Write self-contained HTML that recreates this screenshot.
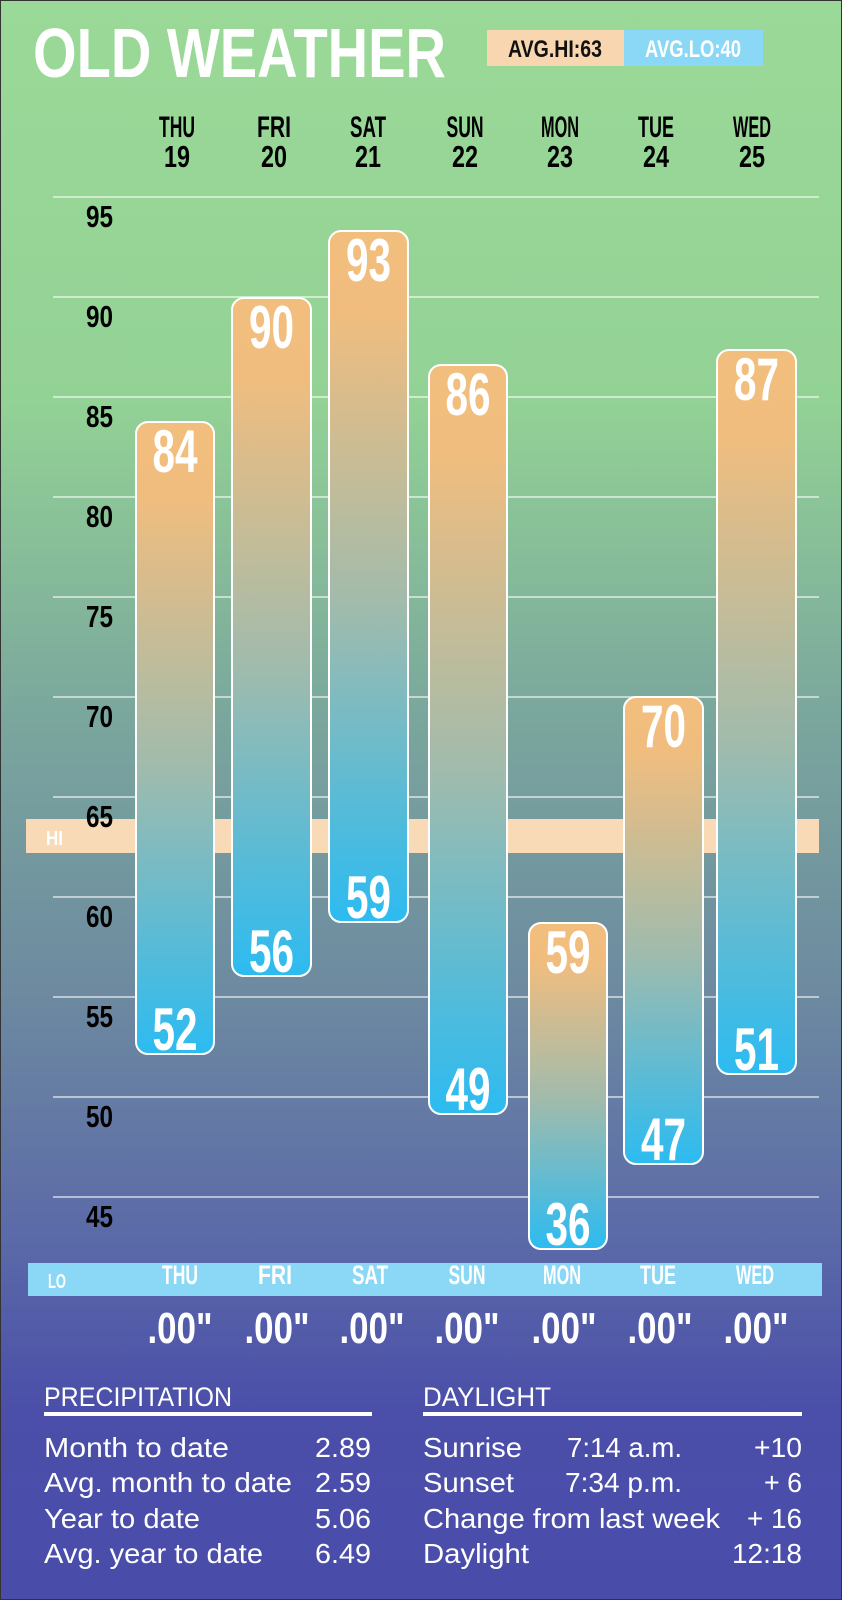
<!DOCTYPE html>
<html><head><meta charset="utf-8"><style>
html,body{margin:0;padding:0;background:#fff}
svg{display:block}
text{font-family:"Liberation Sans",sans-serif}
</style></head><body>
<svg width="842" height="1600" viewBox="0 0 842 1600" xmlns="http://www.w3.org/2000/svg">
<defs>
<linearGradient id="bg" x1="0" y1="0" x2="0" y2="1">
<stop offset="0" stop-color="#9bd998"/>
<stop offset="0.25" stop-color="#93d295"/>
<stop offset="0.45" stop-color="#7aa69d"/>
<stop offset="0.62" stop-color="#6d8aa0"/>
<stop offset="0.78" stop-color="#5a68a8"/>
<stop offset="0.88" stop-color="#4b4fa9"/>
<stop offset="1" stop-color="#4a4caa"/>
</linearGradient>
<linearGradient id="bar" x1="0" y1="0" x2="0" y2="1">
<stop offset="0" stop-color="#f2be7e"/>
<stop offset="0.12" stop-color="#f0bd7f"/>
<stop offset="0.55" stop-color="#9fbbad"/>
<stop offset="1" stop-color="#2cbbf1"/>
</linearGradient>
</defs>
<rect x="0" y="0" width="842" height="1600" fill="url(#bg)"/>
<rect x="0.5" y="0.5" width="841" height="1599" fill="none" stroke="#333" stroke-width="1"/>

<text x="33" y="77" font-size="70" font-weight="bold" fill="#fff" textLength="413" lengthAdjust="spacingAndGlyphs">OLD WEATHER</text>
<rect x="487" y="30" width="137" height="36" fill="#f8d6b0"/>
<rect x="624" y="30" width="139" height="36" fill="#8ad8f6"/>
<text x="555" y="57" font-size="24" font-weight="bold" fill="#111" text-anchor="middle" textLength="94" lengthAdjust="spacingAndGlyphs">AVG.HI:63</text>
<text x="693" y="57" font-size="24" font-weight="bold" fill="#fff" text-anchor="middle" textLength="96" lengthAdjust="spacingAndGlyphs">AVG.LO:40</text>

<g font-size="30" font-weight="bold" fill="#000" text-anchor="middle">
<text x="177" y="137" textLength="36" lengthAdjust="spacingAndGlyphs">THU</text>
<text x="274" y="137" textLength="34" lengthAdjust="spacingAndGlyphs">FRI</text>
<text x="368" y="137" textLength="36" lengthAdjust="spacingAndGlyphs">SAT</text>
<text x="465" y="137" textLength="37" lengthAdjust="spacingAndGlyphs">SUN</text>
<text x="560" y="137" textLength="38" lengthAdjust="spacingAndGlyphs">MON</text>
<text x="656" y="137" textLength="36" lengthAdjust="spacingAndGlyphs">TUE</text>
<text x="752" y="137" textLength="38" lengthAdjust="spacingAndGlyphs">WED</text>
</g>
<g font-size="31" font-weight="bold" fill="#000" text-anchor="middle">
<text x="177" y="167" textLength="26" lengthAdjust="spacingAndGlyphs">19</text>
<text x="274" y="167" textLength="26" lengthAdjust="spacingAndGlyphs">20</text>
<text x="368" y="167" textLength="26" lengthAdjust="spacingAndGlyphs">21</text>
<text x="465" y="167" textLength="26" lengthAdjust="spacingAndGlyphs">22</text>
<text x="560" y="167" textLength="26" lengthAdjust="spacingAndGlyphs">23</text>
<text x="656" y="167" textLength="26" lengthAdjust="spacingAndGlyphs">24</text>
<text x="752" y="167" textLength="26" lengthAdjust="spacingAndGlyphs">25</text>
</g>

<g stroke="#ffffff" stroke-opacity="0.55" stroke-width="2">
<line x1="53" y1="197" x2="819" y2="197"/>
<line x1="53" y1="297" x2="819" y2="297"/>
<line x1="53" y1="397" x2="819" y2="397"/>
<line x1="53" y1="497" x2="819" y2="497"/>
<line x1="53" y1="597" x2="819" y2="597"/>
<line x1="53" y1="697" x2="819" y2="697"/>
<line x1="53" y1="797" x2="819" y2="797"/>
<line x1="53" y1="897" x2="819" y2="897"/>
<line x1="53" y1="997" x2="819" y2="997"/>
<line x1="53" y1="1097" x2="819" y2="1097"/>
<line x1="53" y1="1197" x2="819" y2="1197"/>
</g>

<rect x="26" y="819" width="793" height="34" fill="#f8dab7"/>
<text x="46" y="845" font-size="20" font-weight="bold" fill="#fff" textLength="17" lengthAdjust="spacingAndGlyphs">HI</text>

<g font-size="31" font-weight="bold" fill="#000" text-anchor="end">
<text x="113" y="227" textLength="27" lengthAdjust="spacingAndGlyphs">95</text>
<text x="113" y="327" textLength="27" lengthAdjust="spacingAndGlyphs">90</text>
<text x="113" y="427" textLength="27" lengthAdjust="spacingAndGlyphs">85</text>
<text x="113" y="527" textLength="27" lengthAdjust="spacingAndGlyphs">80</text>
<text x="113" y="627" textLength="27" lengthAdjust="spacingAndGlyphs">75</text>
<text x="113" y="727" textLength="27" lengthAdjust="spacingAndGlyphs">70</text>
<text x="113" y="827" textLength="27" lengthAdjust="spacingAndGlyphs">65</text>
<text x="113" y="927" textLength="27" lengthAdjust="spacingAndGlyphs">60</text>
<text x="113" y="1027" textLength="27" lengthAdjust="spacingAndGlyphs">55</text>
<text x="113" y="1127" textLength="27" lengthAdjust="spacingAndGlyphs">50</text>
<text x="113" y="1227" textLength="27" lengthAdjust="spacingAndGlyphs">45</text>
</g>

<g fill="url(#bar)" stroke="#fff" stroke-width="2">
<rect x="136" y="422" width="78" height="632" rx="12"/>
<rect x="232" y="298" width="79" height="678" rx="12"/>
<rect x="329" y="231" width="79" height="691" rx="12"/>
<rect x="429" y="365" width="78" height="749" rx="12"/>
<rect x="529" y="923" width="78" height="326" rx="12"/>
<rect x="624" y="697" width="79" height="467" rx="12"/>
<rect x="717" y="350" width="79" height="724" rx="12"/>
</g>
<g font-size="60" font-weight="bold" fill="#fff" text-anchor="middle">
<text x="175" y="472" textLength="45" lengthAdjust="spacingAndGlyphs">84</text>
<text x="271.5" y="348" textLength="45" lengthAdjust="spacingAndGlyphs">90</text>
<text x="368.5" y="281" textLength="45" lengthAdjust="spacingAndGlyphs">93</text>
<text x="468" y="415" textLength="45" lengthAdjust="spacingAndGlyphs">86</text>
<text x="568" y="973" textLength="45" lengthAdjust="spacingAndGlyphs">59</text>
<text x="663.5" y="747" textLength="45" lengthAdjust="spacingAndGlyphs">70</text>
<text x="756.5" y="400" textLength="45" lengthAdjust="spacingAndGlyphs">87</text>
<text x="175" y="1050" textLength="45" lengthAdjust="spacingAndGlyphs">52</text>
<text x="271.5" y="972" textLength="45" lengthAdjust="spacingAndGlyphs">56</text>
<text x="368.5" y="918" textLength="45" lengthAdjust="spacingAndGlyphs">59</text>
<text x="468" y="1110" textLength="45" lengthAdjust="spacingAndGlyphs">49</text>
<text x="568" y="1245" textLength="45" lengthAdjust="spacingAndGlyphs">36</text>
<text x="663.5" y="1160" textLength="45" lengthAdjust="spacingAndGlyphs">47</text>
<text x="756.5" y="1070" textLength="45" lengthAdjust="spacingAndGlyphs">51</text>
</g>

<rect x="28" y="1263" width="794" height="33" fill="#8ad8f6"/>
<text x="48" y="1288" font-size="20" font-weight="bold" fill="#fff" textLength="18" lengthAdjust="spacingAndGlyphs">LO</text>
<g font-size="27" font-weight="bold" fill="#fff" text-anchor="middle">
<text x="180" y="1284" textLength="36" lengthAdjust="spacingAndGlyphs">THU</text>
<text x="275" y="1284" textLength="34" lengthAdjust="spacingAndGlyphs">FRI</text>
<text x="370" y="1284" textLength="36" lengthAdjust="spacingAndGlyphs">SAT</text>
<text x="467" y="1284" textLength="37" lengthAdjust="spacingAndGlyphs">SUN</text>
<text x="562" y="1284" textLength="38" lengthAdjust="spacingAndGlyphs">MON</text>
<text x="658" y="1284" textLength="36" lengthAdjust="spacingAndGlyphs">TUE</text>
<text x="755" y="1284" textLength="38" lengthAdjust="spacingAndGlyphs">WED</text>
</g>
<g font-size="44" font-weight="bold" fill="#fff" text-anchor="middle">
<text x="180" y="1343" textLength="65" lengthAdjust="spacingAndGlyphs">.00"</text>
<text x="277" y="1343" textLength="65" lengthAdjust="spacingAndGlyphs">.00"</text>
<text x="372" y="1343" textLength="65" lengthAdjust="spacingAndGlyphs">.00"</text>
<text x="467" y="1343" textLength="65" lengthAdjust="spacingAndGlyphs">.00"</text>
<text x="564" y="1343" textLength="65" lengthAdjust="spacingAndGlyphs">.00"</text>
<text x="660" y="1343" textLength="65" lengthAdjust="spacingAndGlyphs">.00"</text>
<text x="756" y="1343" textLength="65" lengthAdjust="spacingAndGlyphs">.00"</text>
</g>

<g fill="#fff" font-size="27">
<text x="44" y="1406" textLength="188" lengthAdjust="spacingAndGlyphs">PRECIPITATION</text>
<text x="423" y="1406" textLength="128" lengthAdjust="spacingAndGlyphs">DAYLIGHT</text>
<rect x="44" y="1412" width="328" height="4"/>
<rect x="423" y="1412" width="379" height="4"/>
<g font-size="28">
<text x="44" y="1457" textLength="185" lengthAdjust="spacingAndGlyphs">Month to date</text>
<text x="44" y="1492" textLength="248" lengthAdjust="spacingAndGlyphs">Avg. month to date</text>
<text x="44" y="1528" textLength="156" lengthAdjust="spacingAndGlyphs">Year to date</text>
<text x="44" y="1563" textLength="219" lengthAdjust="spacingAndGlyphs">Avg. year to date</text>
<g text-anchor="end">
<text x="371" y="1457" textLength="56" lengthAdjust="spacingAndGlyphs">2.89</text>
<text x="371" y="1492" textLength="56" lengthAdjust="spacingAndGlyphs">2.59</text>
<text x="371" y="1528" textLength="56" lengthAdjust="spacingAndGlyphs">5.06</text>
<text x="371" y="1563" textLength="56" lengthAdjust="spacingAndGlyphs">6.49</text>
<text x="802" y="1457" textLength="48" lengthAdjust="spacingAndGlyphs">+10</text>
<text x="802" y="1492" textLength="38" lengthAdjust="spacingAndGlyphs">+ 6</text>
<text x="802" y="1528" textLength="55" lengthAdjust="spacingAndGlyphs">+ 16</text>
<text x="802" y="1563" textLength="70" lengthAdjust="spacingAndGlyphs">12:18</text>
</g>
<text x="423" y="1457" textLength="99" lengthAdjust="spacingAndGlyphs">Sunrise</text>
<text x="423" y="1492" textLength="91" lengthAdjust="spacingAndGlyphs">Sunset</text>
<text x="423" y="1528" textLength="297" lengthAdjust="spacingAndGlyphs">Change from last week</text>
<text x="423" y="1563" textLength="106" lengthAdjust="spacingAndGlyphs">Daylight</text>
<text x="567" y="1457" textLength="115" lengthAdjust="spacingAndGlyphs">7:14 a.m.</text>
<text x="565" y="1492" textLength="117" lengthAdjust="spacingAndGlyphs">7:34 p.m.</text>
</g>
</g>
</svg>
</body></html>
